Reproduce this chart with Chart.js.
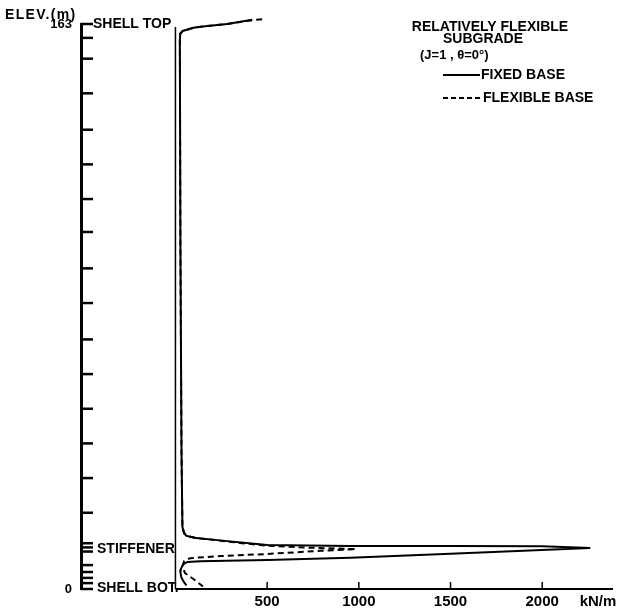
<!DOCTYPE html>
<html>
<head>
<meta charset="utf-8">
<script src="https://cdn.jsdelivr.net/npm/chart.js@4.4.1/dist/chart.umd.min.js"></script>
<style>
  html, body { margin: 0; padding: 0; background: #fff; }
  canvas { display: block; }
</style>
</head>
<body>
<canvas id="chart" width="618" height="615"></canvas>
<script>
// Fixed base (solid) - load in kN/m vs elevation in m, traced top to bottom
const fixedLoad = [418, 282, 150, 97, 40, 26, 24, 27, 33, 38, 44, 58, 100, 228, 500, 953, 1500, 2000, 2262,
                   1500, 953, 500, 135, 65, 42, 30, 27, 32, 44, 60];
const fixedElev = [164.2, 163.0, 162.3, 161.9, 161.0, 160.2, 158, 100, 40, 18, 16.5, 15.4, 14.8, 14.1, 12.7, 12.4, 12.4, 12.3, 11.8,
                   10.2, 9.0, 8.4, 8.0, 7.8, 7.1, 5.8, 4.8, 3.4, 2.2, 1.0];

// Flexible base (dashed)
const flexLoad = [473, 420, 282, 150, 97, 40, 26, 24, 27, 33, 38, 48, 72, 136, 350, 500, 740, 985,
                  790, 500, 245, 80, 48, 38, 52, 105, 150];
const flexElev = [164.4, 164.1, 163.0, 162.3, 161.9, 161.0, 160.2, 158, 100, 40, 18.5, 16.0, 15.2, 14.6, 13.3, 12.5, 11.9, 11.5,
                  11.0, 10.1, 9.5, 8.9, 8.1, 6.6, 4.6, 2.6, 0.7];

// axis ticks
const loadTicks = [500, 1000, 1500, 2000];
const elevTicks = [0, 1.7, 3.2, 4.9, 6.9, 10.8, 12.0, 13.2, 22, 32, 42, 52, 62, 72, 82.5, 92.5, 103, 112.5, 122.5, 132.5, 143, 153, 159, 163];
const elevLabels = { 0: '0', 163: '163' };

const FONT = '"Liberation Sans", Arial, sans-serif';

const toPoints = (xs, ys) => xs.map((v, i) => ({ x: v, y: ys[i] }));

// draws the hand-drawn style axes, inward ticks and the notes
const drawingNotes = {
  id: 'drawingNotes',
  afterDraw(chart) {
    const { ctx, chartArea: a, scales: { x, y } } = chart;
    ctx.save();
    ctx.strokeStyle = '#000';
    ctx.fillStyle = '#000';
    ctx.lineCap = 'butt';

    const x0 = x.getPixelForValue(0);
    const yb = y.getPixelForValue(0);

    // load axis starts at zero
    ctx.lineWidth = 2;
    ctx.beginPath();
    ctx.moveTo(x0, yb);
    ctx.lineTo(a.right, yb);
    ctx.stroke();

    // zero load line
    ctx.lineWidth = 1.5;
    ctx.beginPath();
    ctx.moveTo(x0, yb);
    ctx.lineTo(x0, y.getPixelForValue(163) + 3);
    ctx.stroke();

    // inward ticks on elevation axis
    ctx.lineWidth = 2.5;
    y.ticks.forEach(t => {
      const p = y.getPixelForValue(t.value);
      ctx.beginPath();
      ctx.moveTo(a.left, p);
      ctx.lineTo(a.left + 12, p);
      ctx.stroke();
    });

    // upward ticks on load axis
    ctx.lineWidth = 1.5;
    x.ticks.forEach(t => {
      const p = x.getPixelForValue(t.value);
      ctx.beginPath();
      ctx.moveTo(p, yb);
      ctx.lineTo(p, yb - 7);
      ctx.stroke();
    });

    ctx.textBaseline = 'middle';
    ctx.textAlign = 'left';
    ctx.font = 'bold 14px ' + FONT;
    ctx.letterSpacing = '1.3px';
    ctx.fillText('ELEV.(m)', 5, 15);
    ctx.letterSpacing = '0px';
    ctx.fillText('SHELL TOP', 93, y.getPixelForValue(163));
    ctx.fillText('STIFFENER', 97, y.getPixelForValue(11.5));
    ctx.fillText('SHELL BOT.', 97, yb - 1);

    ctx.font = 'bold 15px ' + FONT;
    ctx.textAlign = 'center';
    ctx.fillText('kN/m', 598, 602);

    // legend block
    ctx.font = 'bold 14px ' + FONT;
    ctx.textAlign = 'center';
    ctx.fillText('RELATIVELY FLEXIBLE', 490, 27);
    ctx.fillText('SUBGRADE', 483, 39);
    ctx.textAlign = 'left';
    ctx.font = 'bold 13px ' + FONT;
    ctx.fillText('(J=1 , \u03B8=0\u00B0)', 420, 55);
    ctx.font = 'bold 14px ' + FONT;
    ctx.fillText('FIXED BASE', 481, 75);
    ctx.fillText('FLEXIBLE BASE', 483, 98);

    ctx.lineWidth = 2;
    ctx.beginPath();
    ctx.moveTo(443, 75);
    ctx.lineTo(480, 75);
    ctx.stroke();
    ctx.setLineDash([5, 3]);
    ctx.beginPath();
    ctx.moveTo(443, 98);
    ctx.lineTo(482, 98);
    ctx.stroke();

    ctx.restore();
  }
};

const ctx = document.getElementById('chart').getContext('2d');
new Chart(ctx, {
  type: 'line',
  data: {
    datasets: [
      {
        label: 'FIXED BASE',
        data: toPoints(fixedLoad, fixedElev),
        borderColor: '#000',
        borderWidth: 2,
        pointRadius: 0,
        tension: 0,
        clip: false
      },
      {
        label: 'FLEXIBLE BASE',
        data: toPoints(flexLoad, flexElev),
        borderColor: '#000',
        borderWidth: 2,
        borderDash: [6, 4],
        pointRadius: 0,
        tension: 0,
        clip: false
      }
    ]
  },
  options: {
    responsive: false,
    animation: false,
    layout: { padding: { top: 24, right: 5, left: 0, bottom: 0 } },
    plugins: {
      legend: { display: false },
      tooltip: { enabled: false }
    },
    scales: {
      x: {
        type: 'linear',
        min: -515,
        max: 2386,
        afterBuildTicks: s => { s.ticks = loadTicks.map(v => ({ value: v })); },
        afterFit: s => { s.height = 26; },
        grid: { display: false, drawTicks: false },
        border: { display: false },
        ticks: {
          padding: 4,
          autoSkip: false,
          maxRotation: 0,
          color: '#000',
          font: { family: FONT, size: 15, weight: 'bold' },
          callback: v => String(v)
        }
      },
      y: {
        type: 'linear',
        min: 0,
        max: 163,
        afterBuildTicks: s => { s.ticks = elevTicks.map(v => ({ value: v })); },
        afterFit: s => { s.width = 81; },
        grid: { display: false, drawTicks: false },
        border: { display: true, color: '#000', width: 3 },
        ticks: {
          padding: 9,
          autoSkip: false,
          color: '#000',
          font: { family: FONT, size: 13, weight: 'bold' },
          callback: v => elevLabels[v] || ''
        }
      }
    }
  },
  plugins: [drawingNotes]
});
</script>
</body>
</html>
